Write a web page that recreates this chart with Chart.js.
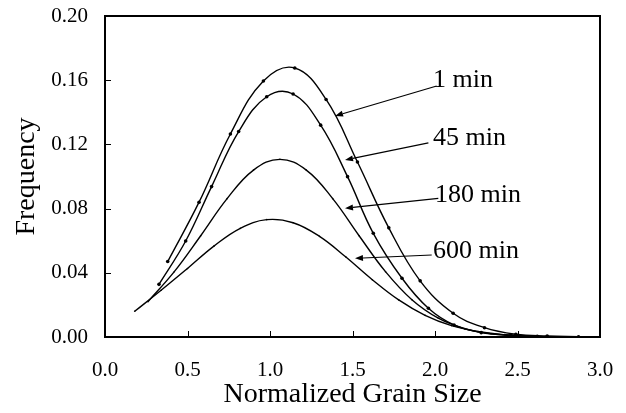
<!DOCTYPE html>
<html>
<head>
<meta charset="utf-8">
<script src="https://cdn.jsdelivr.net/npm/chart.js@4.4.1/dist/chart.umd.min.js"></script>
<style>
  html, body { margin: 0; padding: 0; background: #fff; }
  #wrap { width: 626px; height: 413px; }
</style>
</head>
<body>
<div id="wrap"><canvas id="c" width="626" height="413"></canvas></div>
<script>
// ---- data ----
const seriesNames = ["1 min", "45 min", "180 min", "600 min"];

const x1   = [0.38, 0.57, 0.76, 0.96, 1.15, 1.34, 1.53, 1.72, 1.91, 2.11, 2.30, 2.49, 2.68, 2.87];
const y1   = [0.047, 0.084, 0.1265, 0.1595, 0.1676, 0.148, 0.109, 0.068, 0.035, 0.0148, 0.0058, 0.0017, 0.0006, 0.0002];

const x45  = [0.327, 0.489, 0.646, 0.81, 0.98, 1.14, 1.307, 1.47, 1.626, 1.80, 1.96, 2.115, 2.28, 2.46, 2.62];
const y45  = [0.0328, 0.0598, 0.0937, 0.128, 0.1497, 0.1514, 0.132, 0.0999, 0.0646, 0.0366, 0.0179, 0.0075, 0.0027, 0.0012, 0.0005];

const x180 = [0.26, 0.42, 0.58, 0.74, 0.90, 1.06, 1.22, 1.38, 1.54, 1.70, 1.86, 2.02, 2.18, 2.34, 2.50, 2.66];
const y180 = [0.022, 0.0407, 0.0631, 0.0862, 0.104, 0.1107, 0.104, 0.0862, 0.0631, 0.0407, 0.0232, 0.0117, 0.0052, 0.0020, 0.0007, 0.0002];

const x600 = [0.18, 0.34, 0.50, 0.66, 0.82, 0.98, 1.14, 1.30, 1.46, 1.62, 1.78, 1.94, 2.10, 2.26, 2.42, 2.58];
const y600 = [0.016, 0.0291, 0.0427, 0.0566, 0.0677, 0.0731, 0.0712, 0.0627, 0.0498, 0.0357, 0.0231, 0.0135, 0.0071, 0.0034, 0.0015, 0.0006];

const xTickLabels = ["0.0", "0.5", "1.0", "1.5", "2.0", "2.5", "3.0"];
const yTickLabels = ["0.00", "0.04", "0.08", "0.12", "0.16", "0.20"];

// annotation placement (data coordinates): label anchor, arrow start, arrow tip
const annotations = [
  { text: seriesNames[0], lx: 1.988, ly: 0.1558, sx: 2.01, sy: 0.1564, tx: 1.394, ty: 0.1377 },
  { text: seriesNames[1], lx: 1.988, ly: 0.1196, sx: 1.96, sy: 0.1210, tx: 1.4545, ty: 0.1103 },
  { text: seriesNames[2], lx: 2.00,  ly: 0.0841, sx: 2.02, sy: 0.0864, tx: 1.4545, ty: 0.0802 },
  { text: seriesNames[3], lx: 1.988, ly: 0.0492, sx: 1.98, sy: 0.0511, tx: 1.515, ty: 0.0490 }
];

const pts = (xs, ys) => xs.map((x, i) => ({ x: x, y: ys[i] }));

const SERIF = '"Liberation Serif", "Times New Roman", serif';

const framePlugin = {
  id: 'frame',
  afterDraw(chart) {
    const { ctx, chartArea: a, scales } = chart;
    ctx.save();
    ctx.strokeStyle = '#000';
    // inner tick marks
    ctx.lineWidth = 1;
    ctx.beginPath();
    scales.x.ticks.forEach(t => {
      const px = Math.round(scales.x.getPixelForValue(t.value)) + 0.5;
      ctx.moveTo(px, a.bottom);
      ctx.lineTo(px, a.bottom - 6);
    });
    scales.y.ticks.forEach(t => {
      const py = Math.round(scales.y.getPixelForValue(t.value)) + 0.5;
      ctx.moveTo(a.left, py);
      ctx.lineTo(a.left + 6, py);
    });
    ctx.stroke();
    // frame
    ctx.lineWidth = 2;
    ctx.strokeRect(a.left, a.top, a.right - a.left, a.bottom - a.top);

    // annotations
    ctx.fillStyle = '#000';
    ctx.font = '26px ' + SERIF;
    ctx.textBaseline = 'alphabetic';
    ctx.textAlign = 'left';
    annotations.forEach(an => {
      const sx = scales.x.getPixelForValue(an.sx), sy = scales.y.getPixelForValue(an.sy);
      const tx = scales.x.getPixelForValue(an.tx), ty = scales.y.getPixelForValue(an.ty);
      const ang = Math.atan2(ty - sy, tx - sx);
      const headL = 8, headW = 3;
      const bx = tx - headL * Math.cos(ang), by = ty - headL * Math.sin(ang);
      ctx.lineWidth = 1.2;
      ctx.beginPath();
      ctx.moveTo(sx, sy);
      ctx.lineTo(bx, by);
      ctx.stroke();
      ctx.beginPath();
      ctx.moveTo(tx, ty);
      ctx.lineTo(bx + headW * Math.sin(ang), by - headW * Math.cos(ang));
      ctx.lineTo(bx - headW * Math.sin(ang), by + headW * Math.cos(ang));
      ctx.closePath();
      ctx.fill();
      ctx.fillText(an.text, scales.x.getPixelForValue(an.lx), scales.y.getPixelForValue(an.ly));
    });
    ctx.restore();
  }
};

const mk = (label, data, r) => ({
  label: label,
  data: data,
  borderColor: '#000',
  backgroundColor: '#000',
  borderWidth: 1.4,
  pointRadius: r,
  pointHoverRadius: r,
  pointBorderWidth: 0,
  tension: 0.4,
  fill: false,
  showLine: true
});

new Chart(document.getElementById('c'), {
  type: 'scatter',
  data: {
    datasets: [
      mk(seriesNames[0], pts(x1, y1), 1.8),
      mk(seriesNames[1], pts(x45, y45), 1.8),
      mk(seriesNames[2], pts(x180, y180), 0.8),
      mk(seriesNames[3], pts(x600, y600), 0.8)
    ]
  },
  options: {
    responsive: false,
    animation: false,
    devicePixelRatio: 1,
    layout: { padding: { top: 16, right: 26, left: 0, bottom: 0 } },
    plugins: { legend: { display: false }, tooltip: { enabled: false } },
    scales: {
      x: {
        type: 'linear', min: 0, max: 3,
        afterFit(s) { s.height = 76; s.paddingLeft = 0; s.paddingRight = 0; },
        border: { display: false },
        grid: { display: false, drawTicks: false },
        ticks: {
          stepSize: 0.5, padding: 21, color: '#000',
          font: { family: SERIF, size: 21 },
          callback: (v, i) => xTickLabels[i]
        },
        title: {
          display: true, text: 'Normalized Grain Size', color: '#000',
          font: { family: SERIF, size: 28 }, padding: { top: 0, bottom: 2 }
        }
      },
      y: {
        type: 'linear', min: 0, max: 0.2,
        afterFit(s) { s.width = 105; s.paddingTop = 0; s.paddingBottom = 0; },
        border: { display: false },
        grid: { display: false, drawTicks: false },
        ticks: {
          stepSize: 0.04, padding: 17, color: '#000',
          font: { family: SERIF, size: 21 },
          callback: (v, i) => yTickLabels[i]
        },
        title: {
          display: true, text: 'Frequency', color: '#000',
          font: { family: SERIF, size: 28 }, padding: { top: 10, bottom: 0 }
        }
      }
    }
  },
  plugins: [framePlugin]
});
</script>
</body>
</html>
